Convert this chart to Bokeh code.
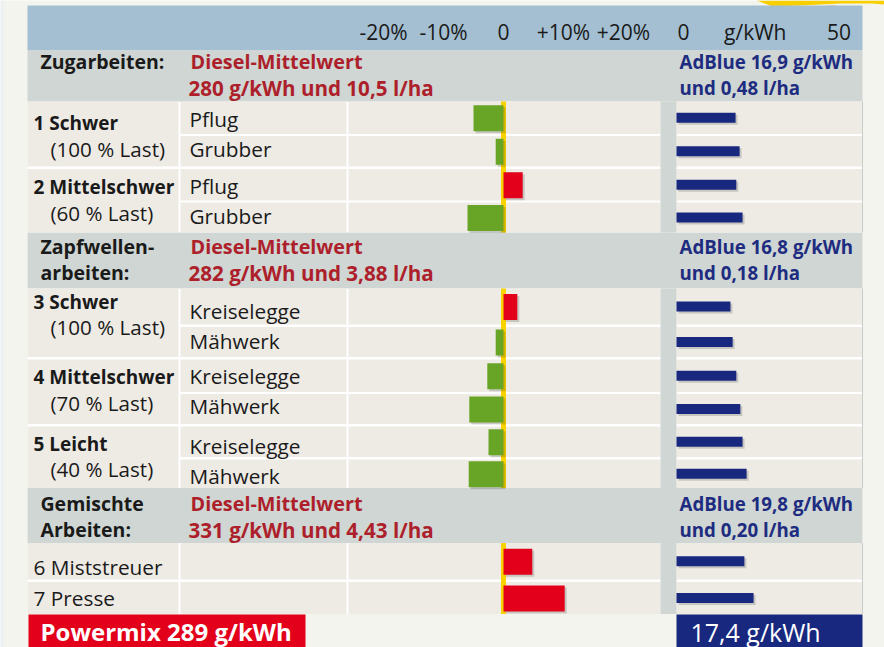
from bokeh.plotting import figure
from bokeh.models import Range1d, ColumnDataSource
from bokeh.core.properties import value
from bokeh.embed import file_html
from bokeh.resources import INLINE

# ---------------- data ----------------
group_titles = [["Zugarbeiten:"], ["Zapfwellen-", "arbeiten:"], ["Gemischte", "Arbeiten:"]]
diesel_title = "Diesel-Mittelwert"
diesel_means = ["280 g/kWh und 10,5 l/ha", "282 g/kWh und 3,88 l/ha", "331 g/kWh und 4,43 l/ha"]
adblue_means = ["AdBlue 16,9 g/kWh", "AdBlue 16,8 g/kWh", "AdBlue 19,8 g/kWh"]
adblue_lha = ["und 0,48 l/ha", "und 0,18 l/ha", "und 0,20 l/ha"]
load_names = ["1 Schwer", "2 Mittelschwer", "3 Schwer", "4 Mittelschwer", "5 Leicht",
              "6 Miststreuer", "7 Presse"]
load_bold = [True, True, True, True, True, False, False]
load_pct = ["(100 % Last)", "(60 % Last)", "(100 % Last)", "(70 % Last)", "(40 % Last)"]
implements = ["Pflug", "Grubber", "Pflug", "Grubber",
              "Kreiselegge", "Mähwerk", "Kreiselegge", "Mähwerk", "Kreiselegge", "Mähwerk",
              "", ""]
diesel_dev_pct = [-5.0, -1.3, 3.2, -6.0, 2.3, -1.3, -2.7, -5.7, -2.5, -5.8, 4.8, 10.2]
adblue_gkwh = [16.1, 17.2, 16.3, 18.0, 14.7, 15.3, 16.3, 17.4, 18.0, 19.1, 18.5, 21.0]
pct_ticks = [-20, -10, 0, 10, 20]
pct_tick_labels = ["-20%", "-10%", "0", "+10%", "+20%"]
gkwh_ticks = [0, 50]
gkwh_tick_labels = ["0", "50"]
gkwh_unit = "g/kWh"
powermix_diesel = "Powermix 289 g/kWh"
powermix_adblue = "17,4 g/kWh"

# ---------------- layout (pixels) ----------------
W, H = 884, 647
row_top = [101, 135.5, 168.5, 202, 288, 326.5, 359, 393.5, 426, 459, 542.5, 581.5]
row_bot = [133.5, 166, 200, 232, 324, 356.5, 391.5, 423.5, 456.5, 487.5, 579, 613.5]
sec_top = [50, 232, 487.5]
sec_bot = [101, 288, 542.5]
sec_y1 = [61, 246, 503]
sec_y2 = [87, 272, 529]
group_rows = [[0, 1, 2, 3], [4, 5, 6, 7, 8, 9], [10, 11]]
load_rows = [[0, 1], [2, 3], [4, 5], [6, 7], [8, 9], [10], [11]]
load_y = [122, 186, 301, 376, 443, 566, 597]
pct_y = [148, 212, 326, 402, 468]
impl_y = [118, 148, 185, 215, 310, 340, 375, 405, 445, 475, 566, 597]
L, R = 27, 862
C1, C2a, C2b, C3a, C3b, C4a = 178, 180, 346, 348, 660, 676
zero_px, pct_px = 503.0, 6.0
gk_zero_px, gk_px = 676.0, 3.67

BG = "#f4f4ee"
HEAD = "#a3bfd1"
SEC = "#cfd6d3"
CELL = "#eeebe5"
BLACK = "#1a1a1a"
RED_T = "#ad1f2b"
NAVY_T = "#1d2c80"
GREEN = "#68a527"
RED = "#e2001a"
NAVY = "#18287f"
YELLOW = "#f9d300"
FONT = value("Open Sans")

p = figure(width=W, height=H, x_range=Range1d(0, W), y_range=Range1d(H, 0),
           output_backend="svg", toolbar_location=None,
           x_axis_location=None, y_axis_location=None, min_border=0)
p.grid.visible = False
p.outline_line_color = None
p.background_fill_color = BG
p.border_fill_color = BG

p.extra_x_ranges = {
    "pct": Range1d(-zero_px / pct_px, (W - zero_px) / pct_px),
    "pct_sh": Range1d(-(zero_px + 2) / pct_px, (W - zero_px - 2) / pct_px),
    "gk": Range1d(-gk_zero_px / gk_px, (W - gk_zero_px) / gk_px),
    "gk_sh": Range1d(-(gk_zero_px + 2) / gk_px, (W - gk_zero_px - 2) / gk_px),
}
p.extra_y_ranges = {"y_sh": Range1d(H - 2, -2)}

# decorative left strip and swoosh
p.quad(left=[0], right=[3.5], top=[0], bottom=[H], fill_color="#edf1f4", line_color=None)
p.patch([756, 772, 800, 840, 872, 884, 884], [0, 6, 5, 3, 3, 4, 0], fill_color="#f8cf00", line_color=None)
p.patch([781, 796, 812, 838, 812, 792], [12, 9, 6.5, 4.5, 8.5, 11.5], fill_color="#e0900a", line_color=None)

# header band
p.quad(left=[L], right=[R], top=[5], bottom=[50], fill_color=HEAD, line_color=None)
# white base behind rows
p.quad(left=[L], right=[R], top=[row_top[0]], bottom=[row_bot[-1]], fill_color="white", line_color=None)
# section bands
p.quad(left=[L] * 3, right=[R] * 3, top=sec_top, bottom=sec_bot, fill_color=SEC, line_color=None)

# cells
c1_top = [row_top[r[0]] for r in load_rows]
c1_bot = [row_bot[r[-1]] for r in load_rows]
p.quad(left=[L] * len(c1_top), right=[C1] * len(c1_top), top=c1_top, bottom=c1_bot,
       fill_color=CELL, line_color=None)
n = len(row_top)
for a, b in [(C2a, C2b), (C3a, C3b), (C4a, R)]:
    p.quad(left=[a] * n, right=[b] * n, top=row_top, bottom=row_bot, fill_color=CELL, line_color=None)
g_top = [row_top[g[0]] for g in group_rows]
g_bot = [row_bot[g[-1]] for g in group_rows]
p.quad(left=[C3b] * 3, right=[C4a] * 3, top=g_top, bottom=g_bot, fill_color=SEC, line_color=None)
p.segment(x0=[R] * 3, x1=[R] * 3, y0=g_top, y1=g_bot, line_color="#c5cdca", line_width=1)

# zero line
p.segment(x0=[0] * 3, x1=[0] * 3, y0=g_top, y1=g_bot, x_range_name="pct",
          line_color=YELLOW, line_width=5)

# bars
row_c = [(t + b) / 2 for t, b in zip(row_top, row_bot)]
dsrc = ColumnDataSource(dict(
    left=[min(0, v) for v in diesel_dev_pct],
    right=[max(0, v) for v in diesel_dev_pct],
    top=[c + 0.5 - 13 for c in row_c],
    bottom=[c + 0.5 + 13 for c in row_c],
    color=[GREEN if v < 0 else RED for v in diesel_dev_pct],
))
asrc = ColumnDataSource(dict(
    left=[0] * n, right=adblue_gkwh,
    top=[c - 5 for c in row_c], bottom=[c + 5 for c in row_c],
))
p.quad(left="left", right="right", top="top", bottom="bottom", source=dsrc,
       x_range_name="pct_sh", y_range_name="y_sh", fill_color="black", fill_alpha=0.16, line_color=None)
p.quad(left="left", right="right", top="top", bottom="bottom", source=asrc,
       x_range_name="gk_sh", y_range_name="y_sh", fill_color="black", fill_alpha=0.16, line_color=None)
p.quad(left="left", right="right", top="top", bottom="bottom", source=dsrc,
       x_range_name="pct", fill_color="color", line_color=None)
p.quad(left="left", right="right", top="top", bottom="bottom", source=asrc,
       x_range_name="gk", fill_color=NAVY, line_color=None)

# footer boxes
p.quad(left=[28], right=[305], top=[614], bottom=[H], fill_color=RED, line_color=None)
p.quad(left=[C4a], right=[R], top=[614], bottom=[H], fill_color=NAVY, line_color=None)


def txt(x, y, t, size, color=BLACK, bold=False, align="left", x_range_name="default", x_offset=0):
    p.text(x=x, y=y, text=t, text_font=FONT, text_font_size=value(size),
           text_font_style="bold" if bold else "normal", text_color=color,
           text_align=align, text_baseline="middle", x_range_name=x_range_name, x_offset=x_offset)


# header ticks
txt(pct_ticks, [31] * len(pct_ticks), pct_tick_labels, "21px", align="center", x_range_name="pct")
txt([gkwh_ticks[0]], [31], [gkwh_tick_labels[0]], "21px", align="left", x_range_name="gk", x_offset=1)
txt([gkwh_ticks[1]], [31], [gkwh_tick_labels[1]], "21px", align="right", x_range_name="gk", x_offset=-9)
txt([(gkwh_ticks[0] + gkwh_ticks[1]) / 2], [31], [gkwh_unit], "21px", align="center",
    x_range_name="gk", x_offset=-13)

# section texts
for i in range(3):
    ys = [sec_y1[i], sec_y2[i]][:len(group_titles[i])]
    txt([40] * len(ys), ys, group_titles[i], "19.5px", bold=True)
txt([190] * 3, sec_y1, [diesel_title] * 3, "19.8px", color=RED_T, bold=True)
txt([188] * 3, sec_y2, diesel_means, "20.6px", color=RED_T, bold=True)
txt([679] * 3, sec_y1, adblue_means, "18.7px", color=NAVY_T, bold=True)
txt([679] * 3, sec_y2, adblue_lha, "18.7px", color=NAVY_T, bold=True)

# row labels
for name, b, y in zip(load_names, load_bold, load_y):
    txt([33], [y], [name], "19px" if b else "20.8px", bold=b)
txt([50] * len(load_pct), pct_y, load_pct, "20.6px")
txt([189] * len(implements), impl_y, implements, "20.8px")

# footer texts
txt([40], [631], [powermix_diesel], "24px", color="white", bold=True)
txt([690], [631], [powermix_adblue], "25px", color="white")

open("out.html", "w").write(file_html(p, INLINE))
